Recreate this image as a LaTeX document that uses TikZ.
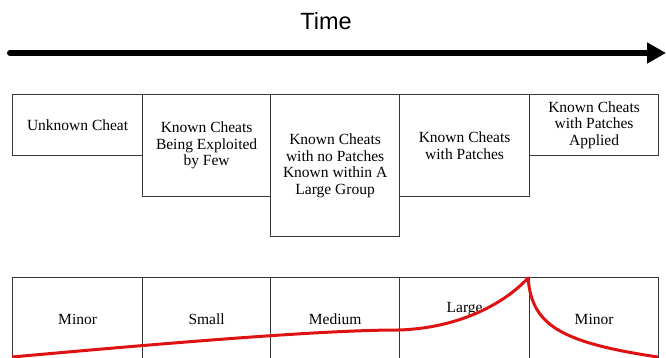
\documentclass[tikz,border=0pt]{standalone}
\usepackage{fontspec}
\setmainfont{Liberation Serif}
\newfontfamily\boxfont{Liberation Serif}
\newfontfamily\timefont{Liberation Sans}
\usetikzlibrary{arrows.meta}
\definecolor{boxline}{RGB}{55,55,55}
\definecolor{curvered}{RGB}{222,18,18}
\tikzset{
  x=1pt,y=1pt,
  stagebox/.style={draw=boxline, line width=1.2pt, anchor=north west, inner sep=0pt,
    align=center, font=\boxfont\fontsize{15.5}{16.5}\selectfont},
  impactbox/.style={draw=boxline, line width=1.2pt, anchor=north west, inner sep=0pt,
    minimum height=83pt, font=\boxfont\fontsize{15.5}{16.5}\selectfont},
  timeline/.style={line width=6pt, line cap=round, -{Triangle[length=19pt,width=20pt]}},
  impactcurve/.style={draw=curvered, line width=3pt, line join=round}
}
\begin{document}
\begin{tikzpicture}
\useasboundingbox (0,0) rectangle (666,358);
\clip (0,0) rectangle (666,358);
% title and time axis
\node[font=\timefont\fontsize{23.5}{26}\selectfont] (time) at (326,337) {Time};
\coordinate (tstart) at (10,305);
\coordinate (tend) at (666,305);
\draw[timeline] (tstart) -- (tend);
% top row
\node[stagebox, minimum width=130pt, minimum height=61pt] (t1) at (12,264) {Unknown Cheat};
\node[stagebox, minimum width=128pt, minimum height=102pt] (t2) at (142,264) {Known Cheats\\Being Exploited\\by Few};
\node[stagebox, minimum width=129pt, minimum height=142pt] (t3) at (270,264) {Known Cheats\\with no Patches\\Known within A\\Large Group};
\node[stagebox, minimum width=130pt, minimum height=102pt] (t4) at (399,264) {Known Cheats\\with Patches};
\node[stagebox, minimum width=129pt, minimum height=61pt] (t5) at (529,264) {Known Cheats\\with Patches\\Applied};
% bottom row
\node[impactbox, minimum width=130pt] (b1) at (12,81) {Minor};
\node[impactbox, minimum width=128pt] (b2) at (142,81) {Small};
\node[impactbox, minimum width=129pt] (b3) at (270,81) {Medium};
\node[impactbox, minimum width=130pt] (b4) at (399,81) {};
\node[impactbox, minimum width=129pt] (b5) at (529,81) {Minor};
\node[font=\boxfont\fontsize{15.5}{16.5}\selectfont] (b4l) at ([yshift=10pt]b4.center) {Large};
% impact curve
\coordinate (c0) at (12,1);
\coordinate (c1) at (399,28);
\coordinate (peak) at (528,80);
\coordinate (c2) at (658,1);
\draw[impactcurve] (c0) .. controls (200,18) and (330,28) .. (c1)
  .. controls (460,30) and (505,55) .. (peak)
  .. controls (532,35) and (556,16) .. (c2);
\end{tikzpicture}
\end{document}
